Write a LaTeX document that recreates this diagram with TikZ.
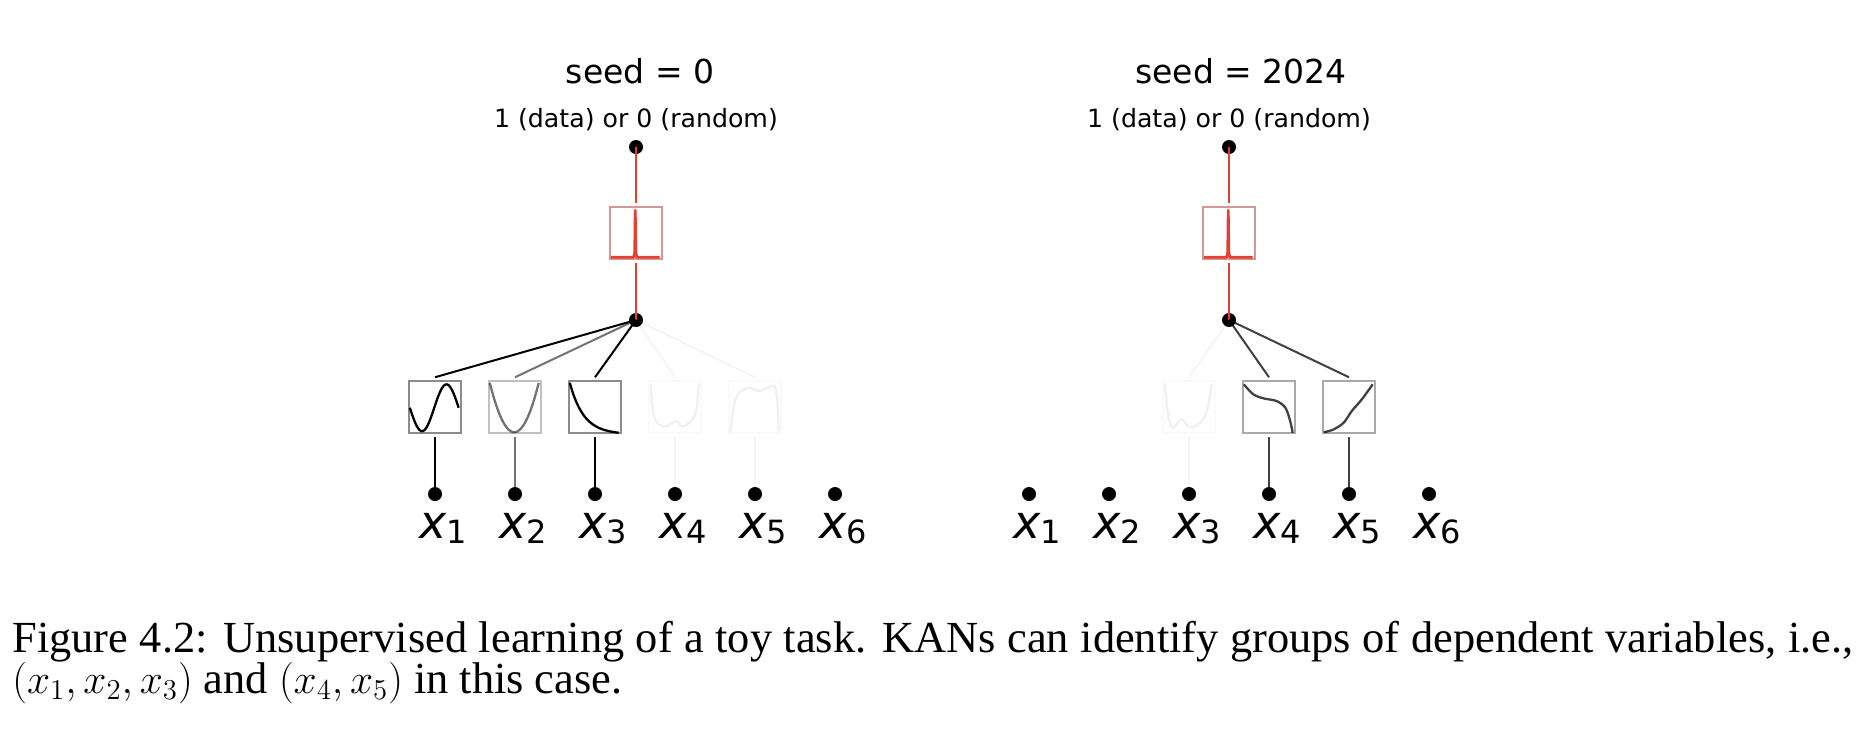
\documentclass[tikz,border=0pt]{standalone}
\usepackage{fontspec}
\setmainfont{Liberation Serif}
\newfontfamily\dejavu{DejaVu Sans}
\definecolor{kanred}{RGB}{228,64,50}
\definecolor{kanpink}{RGB}{212,150,150}
\tikzset{
  kandot/.style = {circle, fill=black, inner sep=0pt, minimum size=7pt},
  kanbox/.style = {rectangle, draw=#1, line width=0.75pt, inner sep=0pt,
    minimum size=26pt},
  kanbox/.default = black!45,
  kanedge/.style = {line width=1pt},
  kancurve/.style = {line width=1.15pt, line join=round},
  kantitle/.style = {font=\dejavu\fontsize{16.5pt}{18pt}\selectfont,
    anchor=base, inner sep=0pt},
  kansub/.style = {font=\dejavu\fontsize{12.6pt}{14pt}\selectfont,
    anchor=base, inner sep=0pt},
  kanlbl/.style = {font=\dejavu\fontsize{23pt}{25pt}\selectfont,
    anchor=base, inner sep=0pt},
  kancap/.style = {anchor=base west, inner sep=0pt, text width=920.5pt,
    align=justify, font=\fontsize{22.2pt}{20.8pt}\selectfont}
}
\newcommand\kanvar[1]{{\itshape x}\raisebox{-2.5pt}{\fontsize{16pt}{16pt}\selectfont #1}}
\newcommand\kanplot[3]{\draw[kancurve,#2,shift={(#1.south west)},x=26pt,y=26pt] plot #3;}

\begin{document}
\begin{tikzpicture}[x=0.5pt, y=-0.5pt]
\useasboundingbox (0,0) rectangle (1867,734);
% seed = 0
\node [kantitle] (ls) at (640,83) {seed = 0};
\node [kansub] (lsub) at (636,127) {1 (data) or 0 (random)};
\node [kandot] (lt) at (636,147) {};
\node [kanbox=kanpink] (lr) at (636,233) {};
\node [kandot] (lm) at (636,320) {};
\draw [kanedge, kanred] (lt.center) -- ([yshift=1.5pt]lr.north);
\draw [kanedge, kanred] ([yshift=-1.5pt]lr.south) -- (lm.center);
\foreach \i in {1,...,6} {
  \node [kandot] (li\i) at ({355+80*\i},494) {};
  \node [kanlbl] (lx\i) at ([xshift=4pt,yshift=-22pt]li\i.center) {\kanvar{\i}};
}
\foreach \i/\a in {1/1, 2/0.55, 3/1, 4/0.04, 5/0.04} {
  \node [kanbox, opacity=\a] (lb\i) at ({355+80*\i},407) {};
  \draw [kanedge, opacity=\a] (lm.center) -- ([yshift=1.5pt]lb\i.north);
  \draw [kanedge, opacity=\a] ([yshift=-1.5pt]lb\i.south) -- (li\i.center);
}
\kanplot{lr}{kanred, line width=1.4pt}{coordinates {(0.03,0.05) (0.47,0.05) (0.49,0.14) (0.5,0.95) (0.51,0.14) (0.53,0.05) (0.97,0.05)}}
\kanplot{lb1}{}{[smooth,domain=0.03:0.97,samples=60] (\x,{0.5-0.45*sin(360*(\x-0.03)/0.94)})}
\kanplot{lb2}{opacity=0.55}{[smooth,domain=0.03:0.97,samples=40] (\x,{0.03+0.95*(\x-0.5)*(\x-0.5)/0.2209})}
\kanplot{lb3}{}{[smooth,domain=0.03:0.97,samples=40] (\x,{0.02+0.96*(exp(-3.5*(\x-0.03)/0.94)-0.0302)/0.9698})}
\kanplot{lb4}{opacity=0.06}{[smooth] coordinates {(0.05,0.95) (0.09,0.43) (0.17,0.21) (0.34,0.14) (0.53,0.24) (0.66,0.14) (0.82,0.24) (0.92,0.43) (0.97,0.95)}}
\kanplot{lb5}{opacity=0.06}{[smooth] coordinates {(0.04,0.02) (0.11,0.56) (0.21,0.79) (0.4,0.88) (0.59,0.82) (0.75,0.88) (0.9,0.9) (0.95,0.5) (0.97,0.05)}}
% seed = 2024
\node [kantitle] (rs) at (1241,83) {seed = 2024};
\node [kansub] (rsub) at (1229,127) {1 (data) or 0 (random)};
\node [kandot] (rt) at (1229,147) {};
\node [kanbox=kanpink] (rr) at (1229,233) {};
\node [kandot] (rm) at (1229,320) {};
\draw [kanedge, kanred] (rt.center) -- ([yshift=1.5pt]rr.north);
\draw [kanedge, kanred] ([yshift=-1.5pt]rr.south) -- (rm.center);
\foreach \i in {1,...,6} {
  \node [kandot] (ri\i) at ({949+80*\i},494) {};
  \node [kanlbl] (rx\i) at ([xshift=4pt,yshift=-22pt]ri\i.center) {\kanvar{\i}};
}
\foreach \i/\a in {3/0.04, 4/0.75, 5/0.75} {
  \node [kanbox, opacity=\a] (rb\i) at ({949+80*\i},407) {};
  \draw [kanedge, opacity=\a] (rm.center) -- ([yshift=1.5pt]rb\i.north);
  \draw [kanedge, opacity=\a] ([yshift=-1.5pt]rb\i.south) -- (ri\i.center);
}
\kanplot{rr}{kanred, line width=1.4pt}{coordinates {(0.03,0.05) (0.47,0.05) (0.49,0.14) (0.5,0.95) (0.51,0.14) (0.53,0.05) (0.97,0.05)}}
\kanplot{rb3}{opacity=0.06}{[smooth] coordinates {(0.05,0.95) (0.12,0.31) (0.21,0.12) (0.37,0.28) (0.53,0.12) (0.73,0.21) (0.86,0.44) (0.95,0.95)}}
\kanplot{rb4}{opacity=0.75}{[smooth] coordinates {(0.03,0.95) (0.21,0.76) (0.41,0.68) (0.66,0.63) (0.83,0.5) (0.92,0.25) (0.97,0.02)}}
\kanplot{rb5}{opacity=0.75}{[smooth] coordinates {(0.03,0.03) (0.21,0.08) (0.41,0.21) (0.57,0.44) (0.76,0.66) (0.97,0.95)}}
% caption
\node [kancap] (cap) at (12,652) {\lineskiplimit=-20pt
  Figure 4.2: Unsupervised learning of a toy task. KANs can identify groups of dependent variables, i.e.,\linebreak
  $(x_1, x_2, x_3)$ and $(x_4, x_5)$ in this case.};
\end{tikzpicture}
\end{document}
